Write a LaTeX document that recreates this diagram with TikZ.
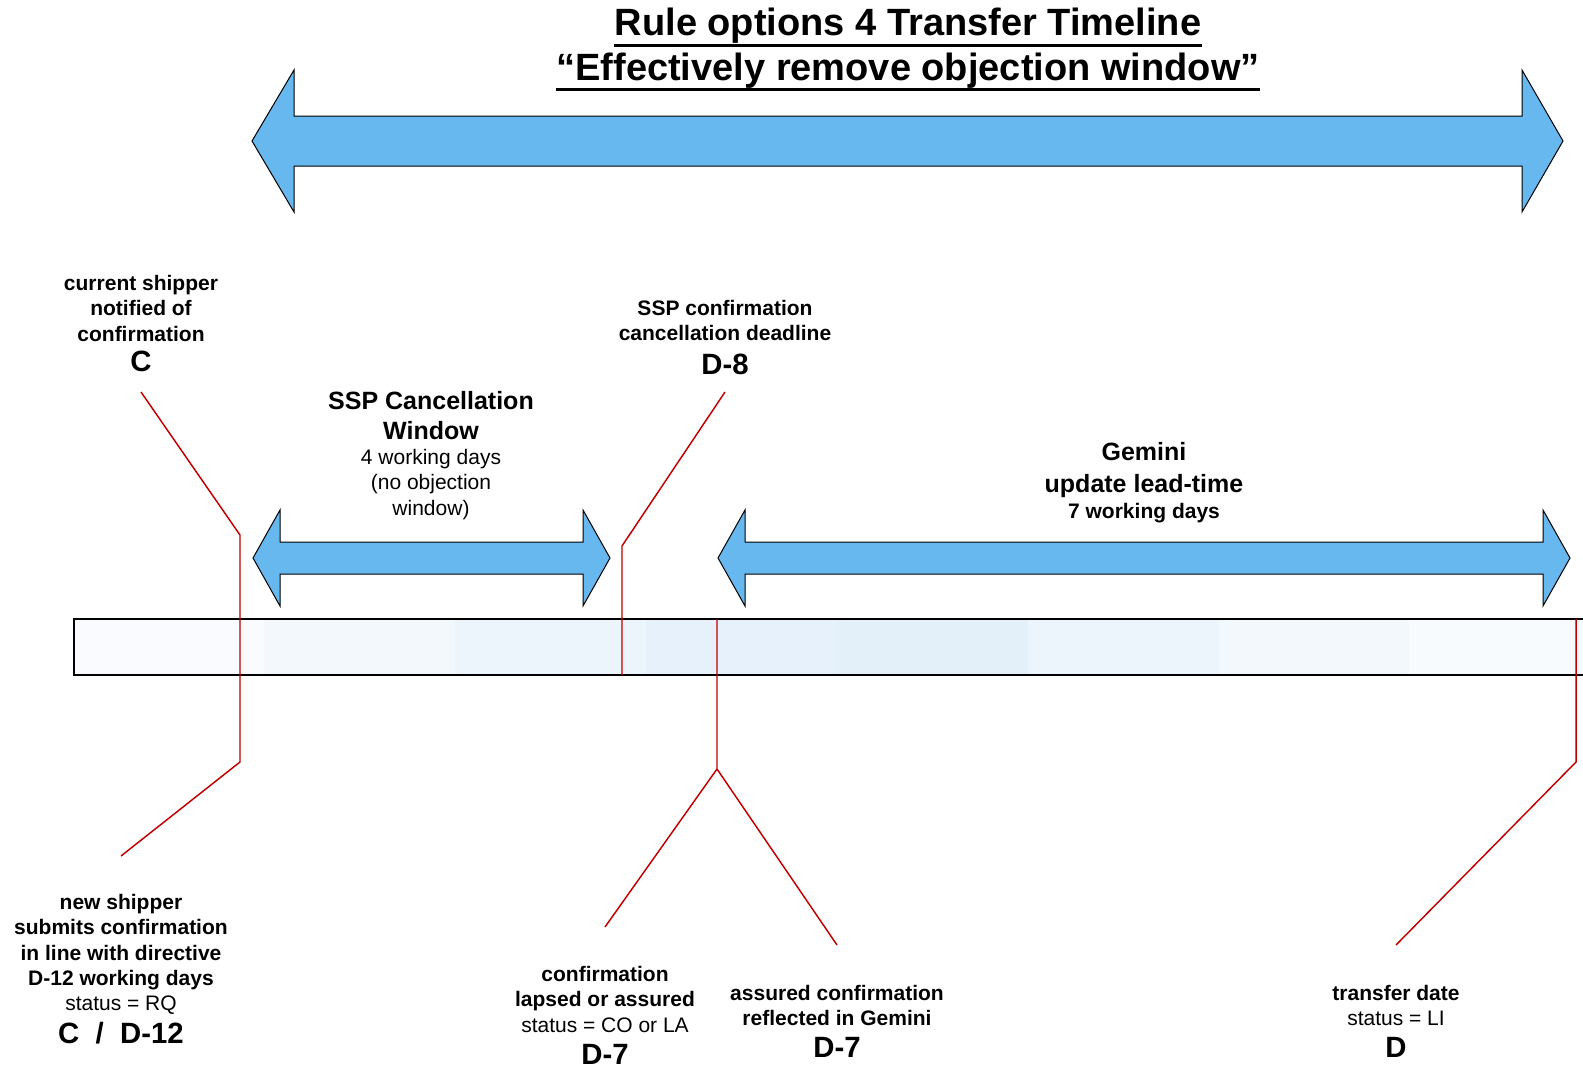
\documentclass[tikz,border=0pt]{standalone}
\usepackage{fontspec}
\setmainfont{Liberation Sans}
\usepackage{tikz}
\definecolor{arrowblue}{RGB}{102, 184, 238}
\definecolor{linered}{RGB}{192, 0, 0}
\definecolor{barA}{RGB}{249, 251, 254}
\definecolor{barB}{RGB}{243, 248, 253}
\definecolor{barC}{RGB}{237, 245, 252}
\definecolor{barD}{RGB}{230, 241, 251}
\definecolor{barE}{RGB}{227, 240, 250}
\definecolor{barF}{RGB}{236, 245, 252}
\definecolor{barG}{RGB}{243, 248, 253}
\definecolor{barH}{RGB}{248, 251, 254}
\tikzset{every picture/.style={line width=0.75pt}}
\tikzset{
  blockarrow/.style={draw=black, fill=arrowblue, line width=0.75pt},
  redline/.style={draw=linered, line width=1.1pt},
  titletext/.style={inner sep=0pt, font=\fontsize{28.5}{33}\selectfont\bfseries},
  titlerule/.style={line width=2.2pt},
  notetext/.style={align=center, inner sep=0pt, font=\fontsize{15.75}{18.9}\selectfont\bfseries},
  plaintext/.style={align=center, inner sep=0pt, font=\fontsize{15.75}{18.9}\selectfont},
  headtext/.style={align=center, inner sep=0pt, font=\fontsize{18.75}{22.5}\selectfont\bfseries},
  marktext/.style={inner sep=0pt, font=\fontsize{22}{26}\selectfont\bfseries}
}

\begin{document}
\begin{tikzpicture}[x=0.75pt,y=0.75pt,yscale=-1]
\clip (0,0) rectangle (1583,1067);
\fill[white] (0,0) rectangle (1583,1067);

% Title
\node (titleA) [titletext, anchor=base] at (908,36) {Rule options 4 Transfer Timeline};
\node (titleB) [titletext, anchor=base] at (908,80) {“Effectively remove objection window”};
\draw [titlerule] ([yshift=6.9pt]titleA.base west) -- ([yshift=6.9pt]titleA.base east);
\draw [titlerule] ([yshift=6.9pt]titleB.base west) -- ([yshift=6.9pt]titleB.base east);

%Shape: Double Arrow [overall]
\draw [blockarrow] (252,141) -- (294,70) -- (294,116) -- (1522,116) -- (1522,70) -- (1563,141) -- (1522,212) -- (1522,166) -- (294,166) -- (294,212) -- cycle ;
%Shape: Double Arrow [cancellation window]
\draw [blockarrow] (253,558) -- (280,510) -- (280,542) -- (583,542) -- (583,510) -- (610,558) -- (583,606) -- (583,574) -- (280,574) -- (280,606) -- cycle ;
%Shape: Double Arrow [gemini lead-time]
\draw [blockarrow] (718,558) -- (745,510) -- (745,542) -- (1543,542) -- (1543,510) -- (1570,558) -- (1543,606) -- (1543,574) -- (745,574) -- (745,606) -- cycle ;

%Shape: Timeline bar
\foreach \xa/\xb/\col in {74/264/barA, 264/455/barB, 455/646/barC, 646/836/barD, 836/1028/barE, 1028/1219/barF, 1219/1409/barG, 1409/1600/barH}
  \fill [\col] (\xa,619) rectangle (\xb,675);
\draw [line width=1.5pt] (1600,619) -- (74,619) -- (74,675) -- (1600,675);

% Text Node
\node (cNote) [notetext, anchor=north] at (141,275) {current shipper\\notified of\\confirmation};
\node (cMark) [marktext, anchor=base] at (141,371) {C};
% Text Node
\node (sspTitle) [headtext, anchor=north] at (431,391) {SSP Cancellation\\Window};
\node (sspDays) [plaintext, anchor=north] at (431,449) {4 working days\\(no objection\\window)};
% Text Node
\node (deadlineNote) [notetext, anchor=north] at (725,300) {SSP confirmation\\cancellation deadline};
\node (dEightMark) [marktext, anchor=base] at (725,374) {D-8};
% Text Node
\node (geminiTitle) [headtext, font=\fontsize{18.75}{24}\selectfont\bfseries, anchor=north] at (1144,442) {Gemini\\update lead-time};
\node (geminiDays) [notetext, anchor=base] at (1144,518) {7 working days};
% Text Node
\node (newShipNote) [notetext, anchor=north] at (121,894) {new shipper\\submits confirmation\\in line with directive\\D-12 working days\\\mdseries status = RQ};
\node (cdMark) [marktext, anchor=base] at (121,1043) {C\ \ /\ \ D-12};
% Text Node
\node (lapsedNote) [notetext, anchor=north] at (605,966) {confirmation\\lapsed or assured\\\mdseries status = CO or LA};
\node (dSevenA) [marktext, anchor=base] at (605,1064) {D-7};
% Text Node
\node (assuredNote) [notetext, anchor=north] at (837,985) {assured confirmation\\reflected in Gemini};
\node (dSevenB) [marktext, anchor=base] at (837,1057) {D-7};
% Text Node
\node (transferNote) [notetext, anchor=north] at (1396,985) {transfer date\\\mdseries status = LI};
\node (dMark) [marktext, anchor=base] at (1396,1057) {D};

% Leader lines
\coordinate (cTop) at (141,392);
\coordinate (cKneeA) at (240,535);
\coordinate (cKneeB) at (240,762);
\coordinate (cEnd) at (121,856);
\draw [redline] (cTop) -- (cKneeA) -- (cKneeB) -- (cEnd);

\coordinate (dEightTop) at (725,392);
\coordinate (dEightKnee) at (622,546);
\coordinate (dEightEnd) at (622,675);
\draw [redline] (dEightTop) -- (dEightKnee) -- (dEightEnd);

\coordinate (dSevenTop) at (717,619);
\coordinate (dSevenFork) at (717,769);
\coordinate (dSevenEndA) at (605,927);
\coordinate (dSevenEndB) at (837,945);
\draw [redline] (dSevenTop) -- (dSevenFork) -- (dSevenEndA);
\draw [redline] (dSevenFork) -- (dSevenEndB);

\coordinate (dTop) at (1576,619);
\coordinate (dKnee) at (1576,762);
\coordinate (dEnd) at (1396,945);
\draw [redline] (dTop) -- (dKnee) -- (dEnd);

\end{tikzpicture}
\end{document}
